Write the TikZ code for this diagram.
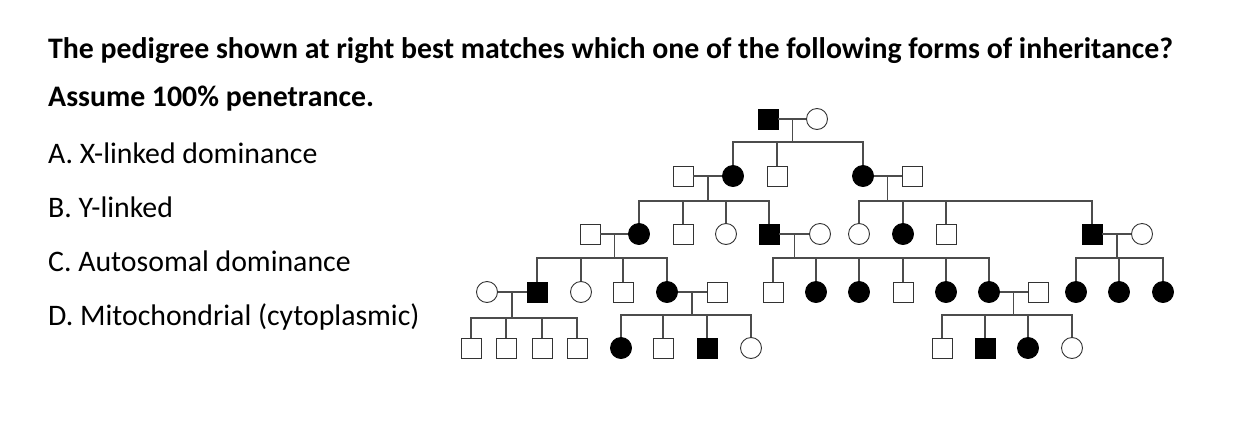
\documentclass[tikz,border=0pt]{standalone}
\usepackage{fontspec}
\setmainfont{Carlito}
\usetikzlibrary{calc}
\tikzset{
  male/.style={rectangle, draw=black!80, fill=white, minimum size=20pt, inner sep=0pt, line width=0.9pt},
  female/.style={circle, draw=black!80, fill=white, minimum size=21pt, inner sep=0pt, line width=0.9pt},
  affected/.style={fill=black, draw=black},
  line/.style={draw=black!70, line width=1.2pt},
  question/.style={anchor=base west, inner sep=0pt, font=\fontsize{29.8}{34}\selectfont}
}

\begin{document}
\begin{tikzpicture}[x=1pt, y=-1pt]
\useasboundingbox (0,0) rectangle (1235,445);

% Question text
\node[question, font=\fontsize{29.8}{34}\selectfont\bfseries] (q) at (48,58) {The pedigree shown at right best matches which one of the following forms of inheritance?};
\node[question, font=\fontsize{29.8}{34}\selectfont\bfseries] (q2) at (48,106) {Assume 100\% penetrance.};
\node[question] (qa) at (48,163) {A. X-linked dominance};
\node[question] (qb) at (48,217) {B. Y-linked};
\node[question] (qc) at (48,271) {C. Autosomal dominance};
\node[question] (qd) at (48,325) {D. Mitochondrial (cytoplasmic)};

% Generation I
\node[male, affected] (I1) at (768,119) {};
\node[female] (I2) at (817,119) {};

% Generation II
\node[male] (II1) at (683,176) {};
\node[female, affected] (II2) at (733,176) {};
\node[male] (II3) at (777,176) {};
\node[female, affected] (II4) at (863,176) {};
\node[male] (II5) at (912,176) {};

% Generation III
\node[male] (III1) at (590,234) {};
\node[female, affected] (III2) at (639,234) {};
\node[male] (III3) at (683,234) {};
\node[female] (III4) at (726,234) {};
\node[male, affected] (III5) at (769,234) {};
\node[female] (III6) at (820,234) {};
\node[female] (III7) at (859,234) {};
\node[female, affected] (III8) at (903,234) {};
\node[male] (III9) at (946,234) {};
\node[male, affected] (III10) at (1092,234) {};
\node[female] (III11) at (1142,234) {};

% Generation IV
\node[female] (IV1) at (487,292) {};
\node[male, affected] (IV2) at (537,292) {};
\node[female] (IV3) at (581,292) {};
\node[male] (IV4) at (623,292) {};
\node[female, affected] (IV5) at (667,292) {};
\node[male] (IV6) at (717,292) {};
\node[male] (IV7) at (773,292) {};
\node[female, affected] (IV8) at (816,292) {};
\node[female, affected] (IV9) at (859,292) {};
\node[male] (IV10) at (903,292) {};
\node[female, affected] (IV11) at (946,292) {};
\node[female, affected] (IV12) at (989,292) {};
\node[male] (IV13) at (1038,292) {};
\node[female, affected] (IV14) at (1076,292) {};
\node[female, affected] (IV15) at (1119,292) {};
\node[female, affected] (IV16) at (1163,292) {};

% Generation V
\node[male] (V1) at (471,348) {};
\node[male] (V2) at (506,348) {};
\node[male] (V3) at (542,348) {};
\node[male] (V4) at (577,348) {};
\node[female, affected] (V5) at (621,348) {};
\node[male] (V6) at (663,348) {};
\node[male, affected] (V7) at (707,348) {};
\node[female] (V8) at (751,348) {};
\node[male] (V9) at (942,348) {};
\node[male, affected] (V10) at (985,348) {};
\node[female, affected] (V11) at (1028,348) {};
\node[female] (V12) at (1072,348) {};

% Family 1: I1 x I2
\coordinate (c1) at ($(I1)!0.5!(I2)$);
\coordinate (s1) at (0,142);
\draw[line] (I1) -- (I2) (c1) -- (c1 |- s1);
\draw[line] (II2.north) -- (II2.north |- s1) -- (II4.north |- s1) -- (II4.north);
\draw[line] (II3.north) -- (II3.north |- s1);

% Family 2: II1 x II2
\coordinate (c2) at ($(II1)!0.5!(II2)$);
\coordinate (s2) at (0,201);
\draw[line] (II1) -- (II2) (c2) -- (c2 |- s2);
\draw[line] (III2.north) -- (III2.north |- s2) -- (III5.north |- s2) -- (III5.north);
\foreach \k in {III3,III4} \draw[line] (\k.north) -- (\k.north |- s2);

% Family 3: II4 x II5
\coordinate (c3) at ($(II4)!0.5!(II5)$);
\draw[line] (II4) -- (II5) (c3) -- (c3 |- s2);
\draw[line] (III7.north) -- (III7.north |- s2) -- (III10.north |- s2) -- (III10.north);
\foreach \k in {III8,III9} \draw[line] (\k.north) -- (\k.north |- s2);

% Family 4: III1 x III2
\coordinate (c4) at ($(III1)!0.5!(III2)$);
\coordinate (s4) at (0,258);
\draw[line] (III1) -- (III2) (c4) -- (c4 |- s4);
\draw[line] (IV2.north) -- (IV2.north |- s4) -- (IV5.north |- s4) -- (IV5.north);
\foreach \k in {IV3,IV4} \draw[line] (\k.north) -- (\k.north |- s4);

% Family 5: III5 x III6
\coordinate (c5) at ($(III5)!0.5!(III6)$);
\draw[line] (III5) -- (III6) (c5) -- (c5 |- s4);
\draw[line] (IV7.north) -- (IV7.north |- s4) -- (IV12.north |- s4) -- (IV12.north);
\foreach \k in {IV8,IV9,IV10,IV11} \draw[line] (\k.north) -- (\k.north |- s4);

% Family 6: III10 x III11
\coordinate (c6) at ($(III10)!0.5!(III11)$);
\draw[line] (III10) -- (III11) (c6) -- (c6 |- s4);
\draw[line] (IV14.north) -- (IV14.north |- s4) -- (IV16.north |- s4) -- (IV16.north);
\draw[line] (IV15.north) -- (IV15.north |- s4);

% Family 7: IV1 x IV2
\coordinate (c7) at ($(IV1)!0.5!(IV2)$);
\coordinate (s7) at (0,318);
\draw[line] (IV1) -- (IV2) (c7) -- (c7 |- s7);
\draw[line] (V1.north) -- (V1.north |- s7) -- (V4.north |- s7) -- (V4.north);
\foreach \k in {V2,V3} \draw[line] (\k.north) -- (\k.north |- s7);

% Family 8: IV5 x IV6
\coordinate (c8) at ($(IV5)!0.5!(IV6)$);
\coordinate (s8) at (0,315);
\draw[line] (IV5) -- (IV6) (c8) -- (c8 |- s8);
\draw[line] (V5.north) -- (V5.north |- s8) -- (V8.north |- s8) -- (V8.north);
\foreach \k in {V6,V7} \draw[line] (\k.north) -- (\k.north |- s8);

% Family 9: IV12 x IV13
\coordinate (c9) at ($(IV12)!0.5!(IV13)$);
\draw[line] (IV12) -- (IV13) (c9) -- (c9 |- s8);
\draw[line] (V9.north) -- (V9.north |- s8) -- (V12.north |- s8) -- (V12.north);
\foreach \k in {V10,V11} \draw[line] (\k.north) -- (\k.north |- s8);
\end{tikzpicture}
\end{document}
